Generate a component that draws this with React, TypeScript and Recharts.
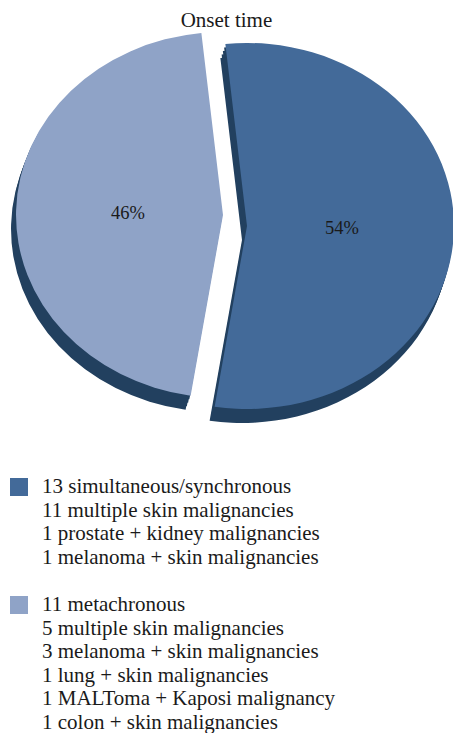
import { PieChart, Pie, Cell, Legend } from "recharts";

const onsetGroups = ["simultaneous/synchronous", "metachronous"];
const patientCounts = [13, 11];
const synchronousDetails = [
  "11 multiple skin malignancies",
  "1 prostate + kidney malignancies",
  "1 melanoma + skin malignancies",
];
const metachronousDetails = [
  "5 multiple skin malignancies",
  "3 melanoma + skin malignancies",
  "1 lung + skin malignancies",
  "1 MALToma + Kaposi malignancy",
  "1 colon + skin malignancies",
];
const groupDetails = [synchronousDetails, metachronousDetails];

const data = onsetGroups.map((name, i) => ({ name, value: patientCounts[i] }));

const FONT = '"Liberation Serif", "DejaVu Serif", serif';
const TOP = ["#436a99", "#8fa3c7"];
const SIDE = "#22405f";
const SX = 1.131; // the pie is drawn a bit wider than tall
const centers = [
  { x: 247, y: 226 },
  { x: 223, y: 215 },
];
const depthSteps = [0.25, 0.5, 0.75, 1];
const RAD = Math.PI / 180;

// sectors get stretched by css, so the label x is stretched here by hand
const pctLabel = (show: number) => (p: any) => {
  if (p.index !== show) return null;
  const r = 84;
  const x = (p.cx + r * Math.cos(-p.midAngle * RAD)) * SX;
  const y = p.cy + r * Math.sin(-p.midAngle * RAD);
  return (
    <text
      x={x}
      y={y}
      textAnchor="middle"
      dominantBaseline="central"
      fill="#1a1a1a"
      fontSize={18.5}
      fontFamily={FONT}
    >
      {Math.round(p.percent * 100)}%
    </text>
  );
};

const css = `
body { margin: 0; }
.recharts-surface path.recharts-sector { transform: scaleX(${SX}); transform-origin: 0 0; }
`;

function LegendBox() {
  return (
    <div style={{ fontFamily: FONT, fontSize: 21, color: "#1a1a1a", lineHeight: "23.5px" }}>
      {onsetGroups.map((g, i) => (
        <div key={g} style={{ position: "relative", paddingLeft: 42, marginBottom: 24 }}>
          <span
            style={{
              position: "absolute",
              left: 10,
              top: 3,
              width: 18,
              height: 18,
              background: TOP[i],
            }}
          />
          <div>
            {patientCounts[i]} {g}
          </div>
          {groupDetails[i].map((d) => (
            <div key={d}>{d}</div>
          ))}
        </div>
      ))}
    </div>
  );
}

export default function App() {
  return (
    <div style={{ position: "relative", width: 453, height: 733 }}>
      <style>{css}</style>
      <div
        style={{
          position: "absolute",
          top: 8,
          left: 0,
          width: 453,
          textAlign: "center",
          fontFamily: FONT,
          fontSize: 21,
          color: "#1a1a1a",
        }}
      >
        Onset time
      </div>
      <PieChart width={453} height={733} margin={{ top: 0, right: 0, bottom: 0, left: 0 }}>
        {centers.map((c, i) =>
          depthSteps.map((f) => (
            <Pie
              key={`side-${i}-${f}`}
              data={data}
              dataKey="value"
              cx={(c.x - 5 * f) / SX}
              cy={c.y + 14 * f}
              outerRadius={183}
              startAngle={96}
              endAngle={-264}
              stroke="none"
              isAnimationActive={false}
            >
              {data.map((d, j) => (
                <Cell key={d.name} fill={j === i ? SIDE : "none"} />
              ))}
            </Pie>
          ))
        )}
        {centers.map((c, i) => (
          <Pie
            key={`top-${i}`}
            data={data}
            dataKey="value"
            cx={c.x / SX}
            cy={c.y}
            outerRadius={183}
            startAngle={96}
            endAngle={-264}
            stroke="none"
            label={pctLabel(i)}
            labelLine={false}
            isAnimationActive={false}
          >
            {data.map((d, j) => (
              <Cell key={d.name} fill={j === i ? TOP[i] : "none"} />
            ))}
          </Pie>
        ))}
        <Legend
          content={() => <LegendBox />}
          wrapperStyle={{ position: "absolute", top: 475, left: 0, width: 453 }}
        />
      </PieChart>
    </div>
  );
}
